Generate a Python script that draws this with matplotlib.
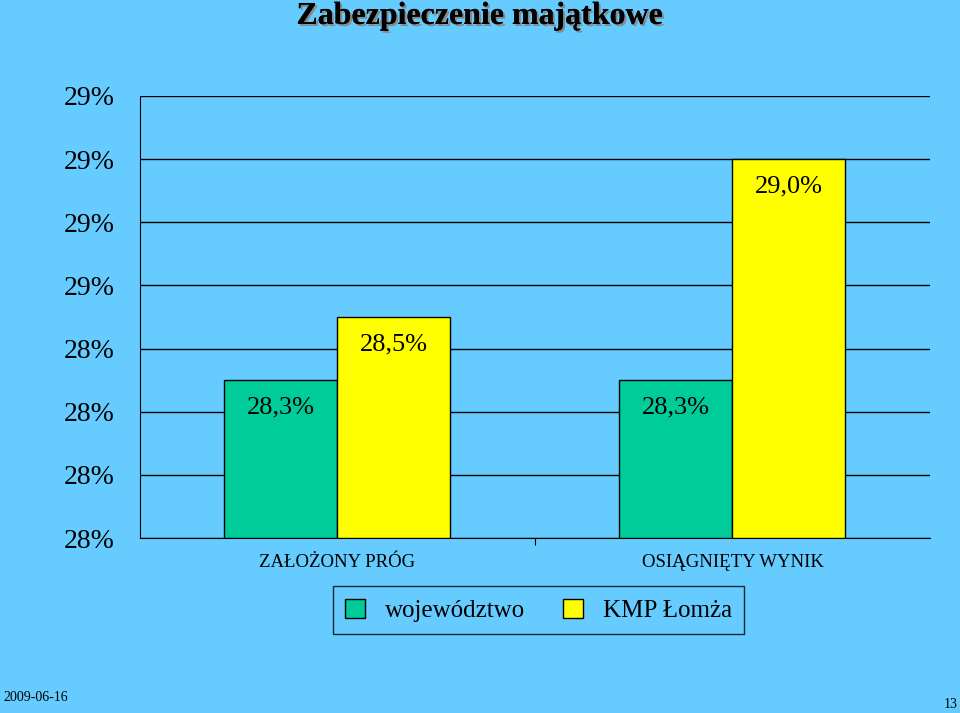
import matplotlib
matplotlib.use("Agg")
import matplotlib.pyplot as plt
import matplotlib.patheffects as pe
from matplotlib.ticker import FuncFormatter
from matplotlib.patches import Patch

categories = ["ZAŁOŻONY PRÓG", "OSIĄGNIĘTY WYNIK"]
series_names = ["województwo", "KMP Łomża"]
wojewodztwo = [28.3, 28.3]
kmp = [28.5, 29.0]
yticks = [27.8, 28.0, 28.2, 28.4, 28.6, 28.8, 29.0, 29.2]

plt.rcParams["font.family"] = "Liberation Serif"
bg = "#66CCFF"
fig = plt.figure(figsize=(9.6, 7.13), dpi=100, facecolor=bg)
ax = fig.add_axes([0.1458, 0.2454, 0.8229, 0.62], facecolor=bg)

w = 0.286
x = list(range(len(categories)))
b1 = ax.bar([i - w/2 for i in x], [v - 27.8 for v in wojewodztwo], w, bottom=27.8,
            color="#00CC99", edgecolor="black", linewidth=1, zorder=3)
b2 = ax.bar([i + w/2 for i in x], [v - 27.8 for v in kmp], w, bottom=27.8,
            color="#FFFF00", edgecolor="black", linewidth=1, zorder=3)
for bars, vals in ((b1, wojewodztwo), (b2, kmp)):
    for r, v in zip(bars, vals):
        ax.annotate(f"{v:.1f}%".replace(".", ","), (r.get_x() + r.get_width()/2, v),
                    xytext=(0, -20), textcoords="offset points", ha="center", va="center",
                    fontsize=19, zorder=4)

ax.set_xlim(-0.5, 1.5)
ax.set_ylim(27.8, 29.2)
ax.set_yticks(yticks)
ax.yaxis.set_major_formatter(FuncFormatter(lambda v, p: f"{v:.0f}%"))
ax.tick_params(axis="y", labelsize=20, length=0, pad=18)
ax.yaxis.grid(True, color="black", linewidth=1, zorder=0)
ax.set_xticks([0.5])
ax.set_xticklabels([""])
ax.tick_params(axis="x", length=5, direction="out")
for i, c in enumerate(categories):
    ax.text(i, -0.035, c, transform=ax.get_xaxis_transform(), ha="center", va="top", fontsize=13.5)
for s in ["top", "right"]:
    ax.spines[s].set_visible(False)
ax.spines["left"].set_color("black")
ax.spines["bottom"].set_color("black")

fig.text(0.5, 0.977, "Zabezpieczenie majątkowe", ha="center", va="center",
         fontsize=23, fontweight="bold",
         path_effects=[pe.withSimplePatchShadow(offset=(1.5, -1.5), shadow_rgbFace="#888888", alpha=1), pe.Normal()])

handles = [Patch(facecolor="#00CC99", edgecolor="black"), Patch(facecolor="#FFFF00", edgecolor="black")]
leg = fig.legend(handles, series_names, loc="center", bbox_to_anchor=(0.561, 0.144), ncol=2,
                 fontsize=18, frameon=True, fancybox=False, edgecolor="black",
                 handlelength=0.8, handleheight=0.8, columnspacing=1.5, borderpad=0.5)
leg.get_frame().set_facecolor(bg)

fig.text(0.003, 0.022, "2009-06-16", fontsize=10, ha="left", va="center")
fig.text(0.997, 0.012, "13", fontsize=10, ha="right", va="center")
fig.savefig("out.png", dpi=100, facecolor=bg)
